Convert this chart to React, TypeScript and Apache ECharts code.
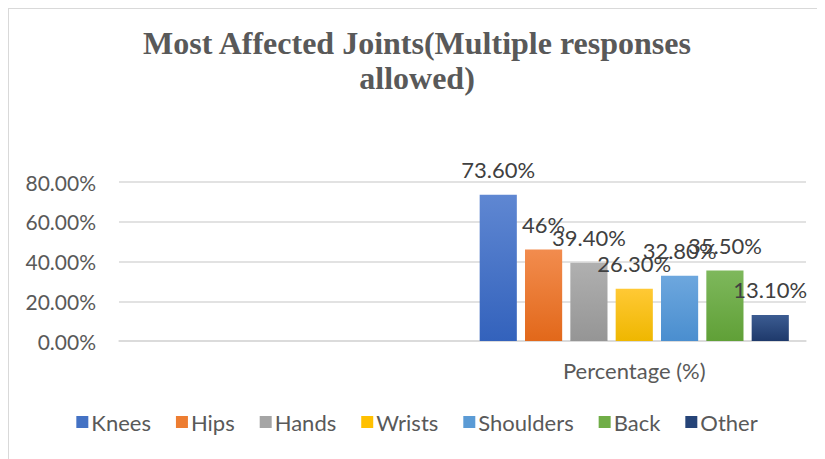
import React, { useEffect, useRef } from "react";
import * as echarts from "echarts";

const categories = ["", "Percentage (%)"];
const seriesNames = ["Knees", "Hips", "Hands", "Wrists", "Shoulders", "Back", "Other"];
const seriesValues = [73.6, 46, 39.4, 26.3, 32.8, 35.5, 13.1];
const valueLabels = ["73.60%", "46%", "39.40%", "26.30%", "32.80%", "35.50%", "13.10%"];
const yTicks = [0, 20, 40, 60, 80];

const colorTop = ["#5F87D2", "#F28C4E", "#B0B0B0", "#FFC935", "#6DA7DE", "#7EB85C", "#3C5C92"];
const colorBottom = ["#3362BC", "#E2681A", "#959595", "#EFB700", "#4A8ECF", "#60A037", "#1E396B"];
const legendColor = ["#4472C4", "#ED7D31", "#A5A5A5", "#FFC000", "#5B9BD5", "#70AD47", "#264478"];

export default function App() {
  const ref = useRef<HTMLDivElement>(null);
  useEffect(() => {
    if (!ref.current) return;
    const chart = echarts.init(ref.current, undefined, { renderer: "svg" });
    const font = "Lato, 'Open Sans', sans-serif";
    chart.setOption({
      animation: false,
      title: {
        text: "Most Affected Joints(Multiple responses\nallowed)",
        left: "center",
        top: 11,
        textStyle: {
          fontFamily: "'Liberation Serif', 'Times New Roman', serif",
          fontWeight: "bold",
          fontSize: 32,
          lineHeight: 35,
          color: "#595959",
        },
      },
      legend: {
        bottom: 21,
        left: "center",
        itemWidth: 12,
        itemHeight: 12,
        itemGap: 25,
        icon: "rect",
        textStyle: { fontFamily: font, fontSize: 22, color: "#595959", padding: [0, 0, 0, -2] },
        data: seriesNames.map((n, i) => ({ name: n, itemStyle: { color: legendColor[i] } })),
      },
      grid: { left: 110, right: 19, top: 173, bottom: 118, containLabel: false },
      xAxis: {
        type: "category",
        data: categories,
        axisLine: { lineStyle: { color: "#D9D9D9", width: 1.5 } },
        axisTick: { show: false },
        axisLabel: { fontFamily: font, fontSize: 22, color: "#595959", margin: 18 },
      },
      yAxis: {
        type: "value",
        min: yTicks[0],
        max: yTicks[yTicks.length - 1],
        interval: 20,
        axisLine: { show: false },
        axisTick: { show: false },
        splitLine: { lineStyle: { color: "#D9D9D9", width: 1.5 } },
        axisLabel: {
          fontFamily: font,
          fontSize: 21,
          color: "#595959",
          margin: 23,
          formatter: (v: number) => v.toFixed(2) + "%",
        },
      },
      series: seriesNames.map((name, i) => ({
        name,
        type: "bar",
        barGap: "22%",
        barCategoryGap: "10%",
        data: categories.map((c, ci) => (ci === 1 ? seriesValues[i] : null)),
        itemStyle: {
          color: new echarts.graphic.LinearGradient(0, 0, 0, 1, [
            { offset: 0, color: colorTop[i] },
            { offset: 1, color: colorBottom[i] },
          ]),
        },
        label: {
          show: true,
          position: "top",
          distance: 14,
          fontFamily: font,
          fontSize: 22,
          color: "#404040",
          formatter: () => valueLabels[i],
        },
      })),
    });
    return () => chart.dispose();
  }, []);
  return (
    <div style={{ borderLeft: "1px solid #D9D9D9", borderTop: "1px solid #D9D9D9", width: 816, height: 450 }}>
      <div ref={ref} style={{ width: 816, height: 450 }} />
    </div>
  );
}
